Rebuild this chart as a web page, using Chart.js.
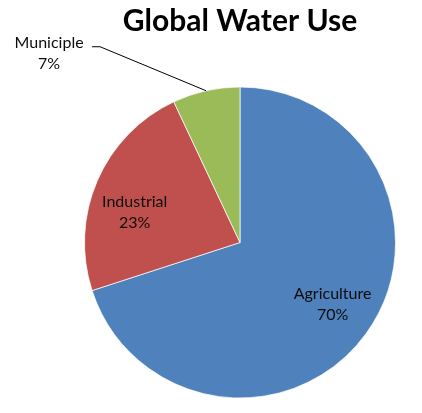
<!DOCTYPE html>
<html>
<head>
<meta charset="utf-8">
<script src="https://cdn.jsdelivr.net/npm/chart.js@4.4.1/dist/chart.umd.min.js"></script>
<style>
  html,body{margin:0;padding:0;background:#fff;}
  canvas{display:block;}
</style>
</head>
<body>
<canvas id="pie" width="422" height="413"></canvas>
<script>
const TITLE = 'Global Water Use';
const LABELS = ['Agriculture', 'Industrial', 'Municiple'];
const VALUES = [70, 23, 7];
const COLORS = ['#4f81bd', '#c0504d', '#9bbb59'];

// label placement: inside labels sit at r*outerRadius on the slice middle, then nudged;
// outside labels get a leader line to an elbow point
const PLACE = [
  {inside: true, r: 0.72, dx: 2, dy: -4},
  {inside: true, r: 0.71, dx: -4, dy: 14},
  {inside: false, ex: -106, ey: -44, tail: 8, tx: -51, ty: 7}
];

const sliceLabels = {
  id: 'sliceLabels',
  afterDatasetsDraw(chart){
    const ctx = chart.ctx;
    const meta = chart.getDatasetMeta(0);
    const total = VALUES.reduce((a,b)=>a+b,0);
    ctx.save();
    ctx.font = '16px Lato';
    ctx.fillStyle = '#0d0d0d';
    ctx.textAlign = 'center';
    ctx.textBaseline = 'middle';
    meta.data.forEach((arc,i)=>{
      const p = arc.getProps(['x','y','startAngle','endAngle','outerRadius'], true);
      const mid = (p.startAngle + p.endAngle)/2;
      const pct = Math.round(VALUES[i]/total*100) + '%';
      const pl = PLACE[i];
      let cx, cy;
      if(pl.inside){
        cx = p.x + Math.cos(mid)*p.outerRadius*pl.r + pl.dx;
        cy = p.y + Math.sin(mid)*p.outerRadius*pl.r + pl.dy;
      } else {
        const ax = p.x + Math.cos(mid)*p.outerRadius;
        const ay = p.y + Math.sin(mid)*p.outerRadius;
        const ex = ax + pl.ex, ey = ay + pl.ey;
        ctx.beginPath();
        ctx.strokeStyle = '#000';
        ctx.lineWidth = 1;
        ctx.moveTo(ax, ay);
        ctx.lineTo(ex, ey);
        ctx.lineTo(ex - pl.tail, ey);
        ctx.stroke();
        cx = ex + pl.tx;
        cy = ey + pl.ty;
      }
      ctx.fillText(LABELS[i], cx, cy - 10.5);
      ctx.fillText(pct, cx, cy + 10.5);
    });
    ctx.restore();
  }
};

new Chart(document.getElementById('pie'), {
  type: 'pie',
  data: {
    labels: LABELS,
    datasets: [{
      data: VALUES,
      backgroundColor: COLORS,
      borderColor: 'rgba(255,255,255,0.7)',
      borderWidth: 1
    }]
  },
  options: {
    responsive: false,
    animation: false,
    devicePixelRatio: 1,
    layout: {padding: {left: 84, right: 26, top: 0, bottom: 14}},
    plugins: {
      legend: {display: false},
      tooltip: {enabled: false},
      title: {
        display: true,
        text: TITLE,
        color: '#000',
        font: {family: 'Lato', size: 30, weight: 'bold'},
        padding: {top: 3, bottom: 47}
      }
    }
  },
  plugins: [sliceLabels]
});
</script>
</body>
</html>
